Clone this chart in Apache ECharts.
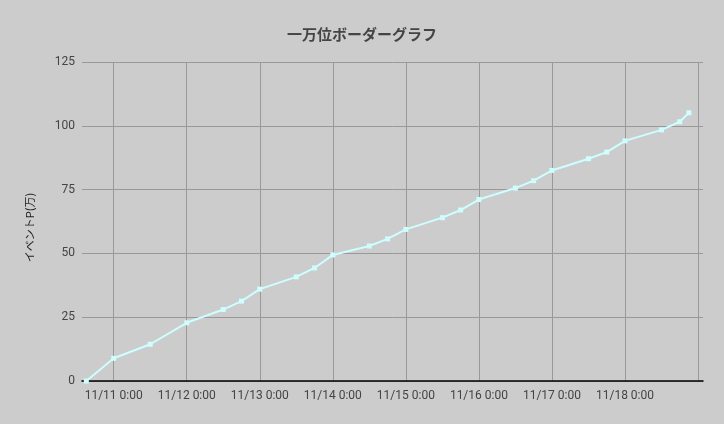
<!DOCTYPE html>
<html>
<head>
<meta charset="utf-8">
<script src="https://cdn.jsdelivr.net/npm/echarts@6/dist/echarts.min.js"></script>
<style>
html,body{margin:0;padding:0;background:#cccccc;}
#chart{width:724px;height:424px;}
</style>
</head>
<body>
<div id="chart"></div>
<script>
var titleText = '一万位ボーダーグラフ';
var yAxisName = 'イベントP(万)';
var times = [
  '2019-11-10 15:00','2019-11-11 00:00','2019-11-11 12:00','2019-11-12 00:00',
  '2019-11-12 12:00','2019-11-12 18:00','2019-11-13 00:00','2019-11-13 12:00',
  '2019-11-13 18:00','2019-11-14 00:00','2019-11-14 12:00','2019-11-14 18:00',
  '2019-11-15 00:00','2019-11-15 12:00','2019-11-15 18:00','2019-11-16 00:00',
  '2019-11-16 12:00','2019-11-16 18:00','2019-11-17 00:00','2019-11-17 12:00',
  '2019-11-17 18:00','2019-11-18 00:00','2019-11-18 12:00','2019-11-18 18:00',
  '2019-11-18 21:00'
];
var values = [
  0, 8.9, 14.4, 22.8,
  28.0, 31.3, 36.0, 40.8,
  44.3, 49.4, 52.9, 55.7,
  59.4, 64.0, 67.0, 71.1,
  75.6, 78.5, 82.5, 87.1,
  89.7, 94.1, 98.4, 101.6,
  105.1
];
var xTickLabels = ['11/11 0:00','11/12 0:00','11/13 0:00','11/14 0:00','11/15 0:00','11/16 0:00','11/17 0:00','11/18 0:00'];
var xMin = '2019-11-10 13:35';
var xMax = '2019-11-19 01:38';
var yTicks = [0, 25, 50, 75, 100, 125];

function parseT(s){
  var p = s.split(/[- :]/).map(Number);
  return new Date(p[0], p[1]-1, p[2], p[3], p[4]).getTime();
}
var seriesData = times.map(function(t,i){ return [parseT(t), values[i]]; });

var chart = echarts.init(document.getElementById('chart'));
chart.setOption({
  backgroundColor: '#cccccc',
  animation: false,
  title: {
    text: titleText,
    left: 'center',
    top: 22,
    textStyle: {
      fontFamily: '"Noto Sans CJK JP"',
      fontSize: 15,
      fontWeight: 'bold',
      color: '#444444'
    }
  },
  grid: { left: 82, right: 21, top: 62, bottom: 43, containLabel: false, outerBoundsMode: 'none' },
  xAxis: {
    type: 'time',
    min: parseT(xMin),
    max: parseT(xMax),
    minInterval: 86400000,
    maxInterval: 86400000,
    axisLine: { show: true, lineStyle: { color: '#000000', width: 1.5 } },
    axisTick: { show: false },
    splitLine: { show: true, showMinLine: false, showMaxLine: false, lineStyle: { color: '#999999', width: 1 } },
    axisLabel: {
      showMinLabel: false,
      showMaxLabel: false,
      color: '#444444',
      fontFamily: 'Roboto',
      fontSize: 12,
      margin: 9,
      hideOverlap: false,
      formatter: function(v){
        var d = new Date(v);
        var m = d.getMinutes();
        var s = (d.getMonth()+1) + '/' + d.getDate() + ' ' + d.getHours() + ':' + (m < 10 ? '0' + m : m);
        return xTickLabels.indexOf(s) >= 0 ? s : '';
      }
    }
  },
  yAxis: {
    type: 'value',
    min: yTicks[0],
    max: yTicks[yTicks.length-1],
    interval: 25,
    name: yAxisName,
    nameLocation: 'middle',
    nameRotate: 90,
    nameGap: 47,
    nameTextStyle: { fontFamily: '"Noto Sans CJK JP"', fontSize: 11, color: '#222222', padding: [0, 12, 0, 0] },
    axisLine: { show: false },
    axisTick: { show: false },
    splitLine: { show: true, lineStyle: { color: '#999999', width: 1 } },
    axisLabel: { color: '#444444', fontFamily: 'Roboto', fontSize: 12, margin: 7 }
  },
  series: [{
    type: 'line',
    data: seriesData,
    symbol: 'rect',
    symbolSize: 5,
    lineStyle: { color: '#ccffff', width: 2 },
    itemStyle: { color: '#ccffff' }
  }]
});
</script>
</body>
</html>
